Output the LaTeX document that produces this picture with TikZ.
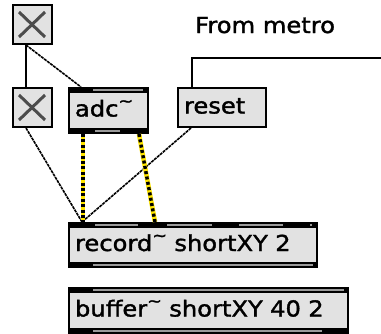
\documentclass[tikz,border=0pt]{standalone}
\usepackage{fontspec}
\newfontfamily\maxfont[FakeStretch=1.1,FakeBold=1.6]{DejaVu Sans}
\usetikzlibrary{calc}
\definecolor{boxgray}{HTML}{E2E2E2}
\definecolor{stripgray}{HTML}{9A9A9A}
\definecolor{sigyellow}{HTML}{FFE600}
\newcommand\tld{\raisebox{10pt}{\fontsize{16}{16}\selectfont\textasciitilde}}
\begin{document}
\begin{tikzpicture}[x=1pt,y=-1pt,
  every node/.style={font=\maxfont\fontsize{22}{26}\selectfont},
  toggle/.style={draw, line width=2pt, fill=boxgray, anchor=north west,
    minimum width=39pt, minimum height=39pt, inner sep=0pt},
  msgbox/.style={draw, line width=2pt, fill=boxgray, anchor=north west,
    inner xsep=6pt, inner ysep=0pt, text height=16pt, text depth=4pt, align=left},
  objbox/.style={msgbox},
  xmark/.style={line width=3pt, black!70},
  band/.style={fill=black},
  strip/.style={fill=stripgray},
  ctrl/.style={line width=1.6pt, dash pattern=on 3pt off 0.8pt},
  wire/.style={line width=2.2pt},
  sigbase/.style={line width=4.6pt, sigyellow},
  sigdash/.style={line width=3.4pt, black, dash pattern=on 3pt off 2.4pt}]
\useasboundingbox (0,0) rectangle (381,333);

% toggles
\node[toggle] (t1) at (12,4) {};
\node[toggle] (t2) at (12,87) {};
\foreach \t in {t1,t2}{
  \draw[xmark] ($(\t.north west)+(7,8)$) -- ($(\t.south east)+(-8,-8)$);
  \draw[xmark] ($(\t.north east)+(-8,8)$) -- ($(\t.south west)+(7,-8)$);
}

% message box and comment
\node[msgbox, text width=76pt, minimum height=39pt] (reset) at (177,87) {reset};
\node[anchor=base west, inner sep=0pt] (comment) at (195,33) {From metro};

% object boxes
\node[objbox, text width=67pt, minimum height=45pt] (adc) at (68,87) {adc\tld};
\node[objbox, text width=236pt, minimum height=44pt] (rec) at (68,222) {record\tld{} shortXY 2};
\node[objbox, text width=267pt, minimum height=45pt] (buf) at (68,287) {buffer\tld{} shortXY 40 2};

% inlet / outlet bands
\foreach \b in {adc,rec,buf}{
  \fill[band] (\b.north west) rectangle ($(\b.north east)+(0,6)$);
  \fill[band] ($(\b.south west)+(0,-6)$) rectangle (\b.south east);
}
% adc~
\fill[strip] ($(adc.north west)+(25,2)$) rectangle ($(adc.north west)+(75,4)$);
\fill[strip] ($(adc.south west)+(27,-4)$) rectangle ($(adc.south west)+(52,-2)$);
% record~
\foreach \a/\b in {27/70,99/144,171/215,242/244}
  \fill[strip] ($(rec.north west)+(\a,2)$) rectangle ($(rec.north west)+(\b,4)$);
\fill[strip] ($(rec.south west)+(25,-4)$) rectangle ($(rec.south west)+(245,-2)$);
% buffer~
\fill[strip] ($(buf.north west)+(25,2)$) rectangle ($(buf.north west)+(276,4)$);
\fill[strip] ($(buf.south west)+(25,-4)$) rectangle ($(buf.south west)+(254,-2)$);

% control connections
\draw[wire] ($(t1.south west)+(14,0)$) -- ($(t2.north west)+(14,0)$);
\draw[ctrl] ($(t1.south west)+(14,0)$) -- ($(adc.north west)+(13,0)$);
\draw[ctrl] ($(t2.south west)+(14,0)$) -- ($(rec.north west)+(14,0)$);
\draw[ctrl] ($(reset.south west)+(14,0)$) -- ($(rec.north west)+(14,0)$);
\coordinate (metro) at (381,58);
\draw[wire] (metro) -| ($(reset.north west)+(15,0)$);

% signal connections
\draw[sigbase] ($(adc.south west)+(15,0)$) -- ($(rec.north west)+(15,0)$);
\draw[sigdash] ($(adc.south west)+(15,0)$) -- ($(rec.north west)+(15,0)$);
\draw[sigbase] ($(adc.south east)+(-10,0)$) -- ($(rec.north west)+(87,0)$);
\draw[sigdash] ($(adc.south east)+(-10,0)$) -- ($(rec.north west)+(87,0)$);
\end{tikzpicture}
\end{document}
